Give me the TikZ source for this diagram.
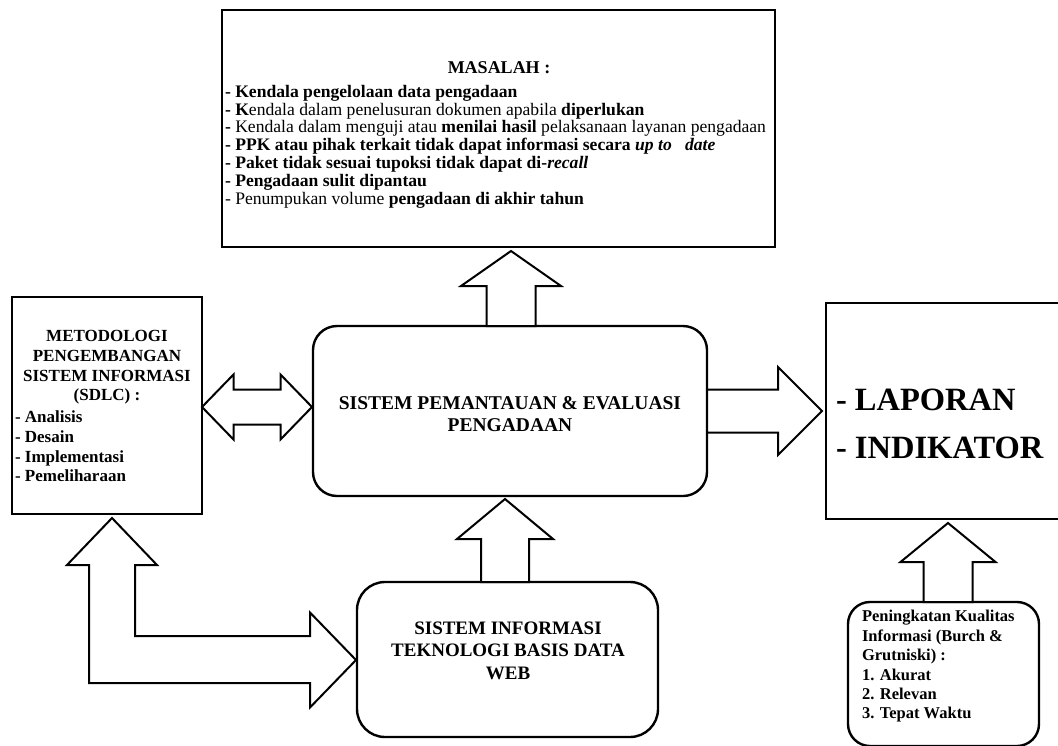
\documentclass[tikz,border=0pt]{standalone}
\usepackage{fontspec}
\setmainfont{Liberation Serif}
\usetikzlibrary{calc}

% block arrows, drawn from a base point to a tip point
% #1 base, #2 tip, #3 shaft half width, #4 head half width, #5 head length
\newcommand\upblock[5]{%
  \draw[blockarrow] let \p1=#1, \p2=#2 in
    (\x1-#3,\y1) -- (\x1-#3,\y2-#5) -- (\x1-#4,\y2-#5) -- (\x1,\y2)
    -- (\x1+#4,\y2-#5) -- (\x1+#3,\y2-#5) -- (\x1+#3,\y1) -- cycle;}
\newcommand\rightblock[5]{%
  \draw[blockarrow] let \p1=#1, \p2=#2 in
    (\x1,\y1+#3) -- (\x2-#5,\y1+#3) -- (\x2-#5,\y1+#4) -- (\x2,\y1)
    -- (\x2-#5,\y1-#4) -- (\x2-#5,\y1-#3) -- (\x1,\y1-#3) -- cycle;}
% #1 left tip, #2 right tip, #3 shaft half width, #4 head half width, #5 head length
\newcommand\lrblock[5]{%
  \draw[blockarrow] let \p1=#1, \p2=#2 in
    (\x1,\y1) -- (\x1+#5,\y1+#4) -- (\x1+#5,\y1+#3) -- (\x2-#5,\y1+#3)
    -- (\x2-#5,\y1+#4) -- (\x2,\y1) -- (\x2-#5,\y1-#4) -- (\x2-#5,\y1-#3)
    -- (\x1+#5,\y1-#3) -- (\x1+#5,\y1-#4) -- cycle;}

\begin{document}
\begin{tikzpicture}[x=1pt,y=-1pt,
  boxline/.style={draw=black, line width=2.4pt, inner sep=0pt, outer sep=0pt},
  sqbox/.style={boxline, rectangle},
  rbox/.style={boxline, rectangle, rounded corners=#1},
  rbox/.default=24pt,
  blockarrow/.style={draw=black, line width=2pt, line join=miter, fill=white},
  txt/.style={inner sep=0pt, outer sep=0pt}]
\useasboundingbox (0,0) rectangle (1058,745);

% boxes
\node[sqbox, minimum width=553pt, minimum height=237pt] (masalah) at (498.5,128.5) {};
\node[sqbox, minimum width=190pt, minimum height=217pt] (sdlc) at (107,405.5) {};
\node[rbox=24pt, minimum width=394pt, minimum height=170pt] (spe) at (510,411) {};
\node[rbox=28pt, minimum width=301pt, minimum height=155pt] (web) at (507.5,659.5) {};
\node[sqbox, minimum width=244pt, minimum height=216pt] (lap) at (948,411) {};
\node[rbox=22pt, minimum width=191pt, minimum height=144pt] (kual) at (943.5,674) {};

% texts
\node[txt, font=\fontsize{18}{20}\selectfont\bfseries] (masalahtitle) at (499,68) {MASALAH :};
\node[txt, anchor=west, align=left, font=\fontsize{17.6}{17.8}\selectfont\bfseries] (masalahlist) at (225,146.5) {%
- Kendala pengelolaan data pengadaan\\
- K{\mdseries endala dalam penelusuran dokumen apabila} diperlukan\\
- {\mdseries Kendala dalam menguji atau} menilai hasil {\mdseries pelaksanaan layanan pengadaan}\\
- PPK atau pihak terkait tidak dapat informasi secara \textit{up to\ \ \ date}\\
- Paket tidak sesuai tupoksi tidak dapat di-\textit{recall}\\
- Pengadaan sulit dipantau\\
{\mdseries - Penumpukan volume} pengadaan di akhir tahun};

\node[txt, align=center, font=\fontsize{17}{19.7}\selectfont\bfseries] (sdlchead) at (107,367.5)
  {METODOLOGI\\PENGEMBANGAN\\SISTEM INFORMASI\\(SDLC) :};
\node[txt, anchor=west, align=left, font=\fontsize{17}{19.7}\selectfont\bfseries] (sdlclist) at (15,446.5)
  {- Analisis\\- Desain\\- Implementasi\\- Pemeliharaan};

\node[txt, align=center, font=\fontsize{19.5}{22.5}\selectfont\bfseries] (spetext) at (510,414)
  {SISTEM PEMANTAUAN \& EVALUASI\\PENGADAAN};
\node[txt, align=center, font=\fontsize{19}{22.5}\selectfont\bfseries] (webtext) at (508,650.5)
  {SISTEM INFORMASI\\TEKNOLOGI BASIS DATA\\WEB};
\node[txt, anchor=west, align=left, font=\fontsize{32.5}{48}\selectfont\bfseries] (laptext) at (836,424)
  {- LAPORAN\\- INDIKATOR};
\node[txt, anchor=west, align=left, font=\fontsize{16.5}{19.4}\selectfont\bfseries] (kualtext) at (862,666.5)
  {Peningkatan Kualitas\\Informasi (Burch \&\\Grutniski) :\\1. Akurat\\2. Relevan\\3. Tepat Waktu};

% block arrows between the boxes
\upblock{($(spe.north)+(1,0)$)}{($(masalah.south)+(0,4)$)}{24.5pt}{50pt}{35pt}
\upblock{($(web.north)+(-2.5,0)$)}{($(spe.south)+(0,3)$)}{24pt}{48pt}{40pt}
\upblock{($(kual.north)+(4.5,0)$)}{($(lap.south)+(0,4)$)}{24.5pt}{47.5pt}{39pt}
\rightblock{(spe.east)}{($(lap.west)+(-4,0)$)}{21.5pt}{44pt}{44pt}
\lrblock{($(sdlc.east)+(0,1.5)$)}{($(spe.west)+(-1,1.5)$)}{17.5pt}{32.5pt}{31.5pt}

% bent two-headed arrow between the method box and the web system box
\draw[blockarrow] let \p1=($(sdlc.south)+(5,4)$), \p2=($(web.west)+(-1,0.5)$) in
  (\x1,\y1) -- (\x1+45pt,\y1-47pt) -- (\x1+23pt,\y1-47pt) -- (\x1+23pt,\y2+24pt)
  -- (\x2-46pt,\y2+24pt) -- (\x2-46pt,\y2+47.5pt) -- (\x2,\y2)
  -- (\x2-46pt,\y2-47.5pt) -- (\x2-46pt,\y2-23pt) -- (\x1-23pt,\y2-23pt)
  -- (\x1-23pt,\y1-47pt) -- (\x1-45pt,\y1-47pt) -- cycle;
\end{tikzpicture}
\end{document}
